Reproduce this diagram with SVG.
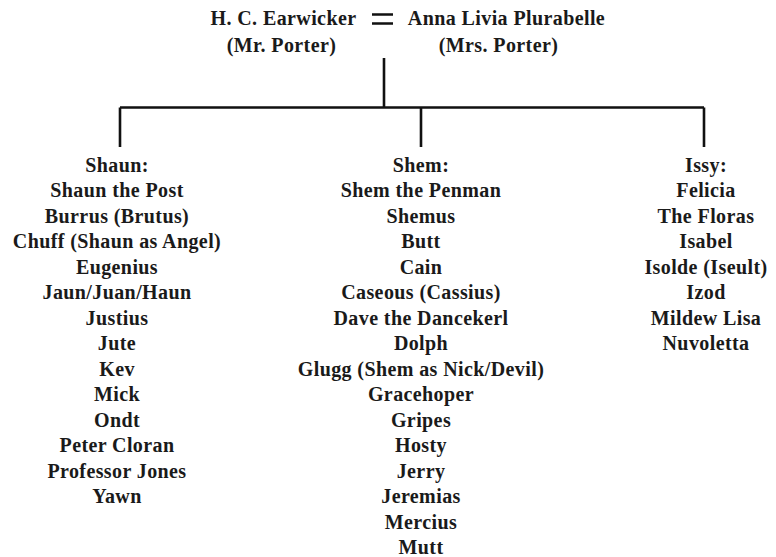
<svg xmlns="http://www.w3.org/2000/svg" width="776" height="557" viewBox="0 0 776 557">
<style>
text{font-family:"Liberation Serif","Times New Roman",serif;font-weight:bold;font-size:20px;letter-spacing:0.4px;fill:#1a1a1a;text-anchor:middle}
.ln{stroke:#111;stroke-width:2.6;fill:none}
</style>
<rect width="776" height="557" fill="#fff"/>
<g id="parents">
<g id="hce"><text x="283.5" y="25">H. C. Earwicker</text><text x="281.5" y="52">(Mr. Porter)</text></g>
<g id="alp"><text x="506.5" y="25">Anna Livia Plurabelle</text><text x="498.5" y="52">(Mrs. Porter)</text></g>
</g>
<g id="connectors">
<path class="ln" d="M372 14.5H393M372 23.5H393"/>
<path class="ln" d="M384 58V107.5M120 107.5H704M120 107.5V147M421 107.5V147M704 107.5V147"/>
</g>
<g id="shaun">
<text x="117" y="171.5">Shaun:</text>
<text x="117" y="197">Shaun the Post</text>
<text x="117" y="222.5">Burrus (Brutus)</text>
<text x="117" y="248">Chuff (Shaun as Angel)</text>
<text x="117" y="273.5">Eugenius</text>
<text x="117" y="299">Jaun/Juan/Haun</text>
<text x="117" y="324.5">Justius</text>
<text x="117" y="350">Jute</text>
<text x="117" y="375.5">Kev</text>
<text x="117" y="401">Mick</text>
<text x="117" y="426.5">Ondt</text>
<text x="117" y="452">Peter Cloran</text>
<text x="117" y="477.5">Professor Jones</text>
<text x="117" y="503">Yawn</text>
</g>
<g id="shem">
<text x="421" y="171.5">Shem:</text>
<text x="421" y="197">Shem the Penman</text>
<text x="421" y="222.5">Shemus</text>
<text x="421" y="248">Butt</text>
<text x="421" y="273.5">Cain</text>
<text x="421" y="299">Caseous (Cassius)</text>
<text x="421" y="324.5">Dave the Dancekerl</text>
<text x="421" y="350">Dolph</text>
<text x="421" y="375.5">Glugg (Shem as Nick/Devil)</text>
<text x="421" y="401">Gracehoper</text>
<text x="421" y="426.5">Gripes</text>
<text x="421" y="452">Hosty</text>
<text x="421" y="477.5">Jerry</text>
<text x="421" y="503">Jeremias</text>
<text x="421" y="528.5">Mercius</text>
<text x="421" y="554">Mutt</text>
</g>
<g id="issy">
<text x="706" y="171.5">Issy:</text>
<text x="706" y="197">Felicia</text>
<text x="706" y="222.5">The Floras</text>
<text x="706" y="248">Isabel</text>
<text x="706" y="273.5">Isolde (Iseult)</text>
<text x="706" y="299">Izod</text>
<text x="706" y="324.5">Mildew Lisa</text>
<text x="706" y="350">Nuvoletta</text>
</g>
</svg>
